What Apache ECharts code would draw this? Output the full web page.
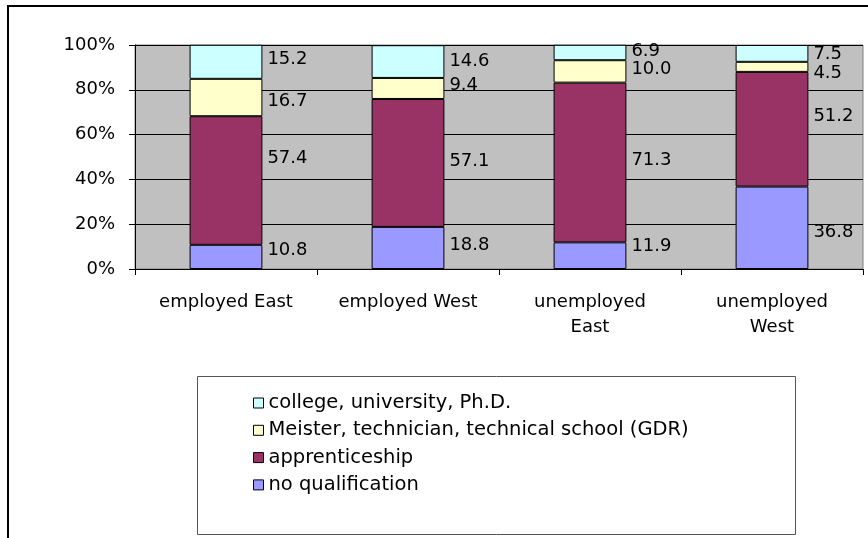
<!DOCTYPE html>
<html><head><meta charset="utf-8">
<script src="https://cdn.jsdelivr.net/npm/echarts@6/dist/echarts.min.js"></script>
<style>html,body{margin:0;padding:0;background:#fff}#c{width:868px;height:538px}</style>
</head><body><div id="c"></div>
<script>
const categories = ['employed East', 'employed West', 'unemployed\nEast', 'unemployed\nWest'];
const noQualification = [10.8, 18.8, 11.9, 36.8];
const apprenticeship = [57.4, 57.1, 71.3, 51.2];
const meister = [16.7, 9.4, 10.0, 4.5];
const college = [15.2, 14.6, 6.9, 7.5];
const yTicks = [0, 20, 40, 60, 80, 100];
const seriesNames = ['no qualification', 'apprenticeship', 'Meister, technician, technical school (GDR)', 'college, university, Ph.D.'];
// label vertical nudges (style only)
const labelNudge = [
  [-7, -3, -9, 5],
  [-22, -2, -2, -13],
  [4, -3, -2, 6],
  [-2, 0, -1, 1]
];
const colors = ['#9999FF', '#993366', '#FFFFCC', '#CCFFFF'];
const FONT = 'DejaVu Sans';
const values = [noQualification, apprenticeship, meister, college];

const chart = echarts.init(document.getElementById('c'));
const series = values.map((arr, si) => ({
  name: seriesNames[si],
  type: 'bar',
  stack: 'total',
  barWidth: '40%',
  itemStyle: { color: colors[si], borderColor: '#000', borderWidth: 1 },
  data: arr.map((v, i) => ({
    value: v,
    label: { offset: [0, labelNudge[si][i]] }
  })),
  label: {
    show: true, position: 'right', distance: 5,
    color: '#000', fontFamily: FONT, fontSize: 18,
    formatter: p => p.value.toFixed(1)
  }
}));

chart.setOption({
  animation: false,
  backgroundColor: '#fff',
  graphic: [
    { type: 'rect', z: -10, shape: { x: 8, y: 6, width: 880, height: 560 }, style: { fill: '#fff', stroke: '#000', lineWidth: 2 } },
    { type: 'rect', z: -5, shape: { x: 197.5, y: 376.5, width: 598, height: 158 }, style: { fill: '#fff', stroke: '#555', lineWidth: 1 } }
  ],
  grid: { left: 135, right: 5, top: 45, bottom: 269, show: true, backgroundColor: '#C0C0C0', borderColor: '#808080', borderWidth: 1 },
  legend: {
    data: seriesNames.slice().reverse(),
    orient: 'vertical', left: 248, top: 388,
    icon: 'rect', itemWidth: 10, itemHeight: 10, itemGap: 7.3,
    selectedMode: false,
    itemStyle: { borderColor: '#000', borderWidth: 1 },
    textStyle: { fontFamily: FONT, fontSize: 19.5, color: '#000' }
  },
  xAxis: {
    type: 'category', data: categories,
    axisLine: { lineStyle: { color: '#000', width: 1 } },
    axisTick: { show: true, length: 6, lineStyle: { color: '#000' } },
    axisLabel: { color: '#000', fontFamily: FONT, fontSize: 18, margin: 21, lineHeight: 25, interval: 0 }
  },
  yAxis: {
    type: 'value', min: 0, max: 100, interval: 20,
    axisLine: { show: true, lineStyle: { color: '#000' } },
    axisTick: { show: true, length: 6, lineStyle: { color: '#000' } },
    splitLine: { lineStyle: { color: '#000', width: 1 } },
    axisLabel: { color: '#000', fontFamily: FONT, fontSize: 18, margin: 20,
      formatter: v => yTicks.includes(v) ? v + '%' : '' }
  },
  series
});
</script></body></html>
